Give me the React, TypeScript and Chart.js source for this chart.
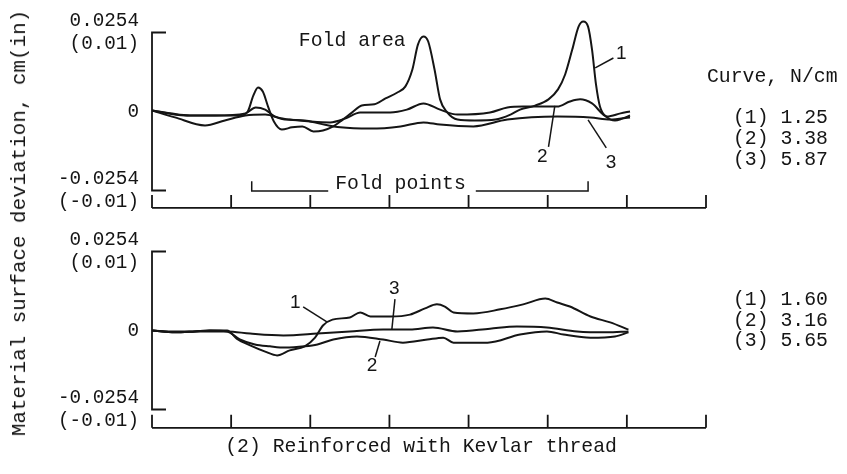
import React, { useEffect, useRef } from 'react';
import { Chart, registerables } from 'chart.js';

Chart.register(...registerables);

// ---------- axis definitions ----------
const X_TICKS = [0, 1, 2, 3, 4, 5, 6, 7];
const Y_TICKS = [-0.0254, 0, 0.0254];
const Y_TICK_LABELS = [['-0.0254', '(-0.01)'], ['0'], ['0.0254', '(0.01)']];
const Y_TITLE = 'Material surface deviation, cm(in)';

// ---------- top panel data (cm) ----------
const TOP_C1_X = [0, 0.23, 0.48, 0.8, 1.11, 1.21, 1.28, 1.34, 1.4, 1.47, 1.54, 1.64, 1.77, 1.9, 2.04, 2.16, 2.29, 2.41, 2.53, 2.65, 2.81, 2.95, 3.1, 3.2, 3.29, 3.36, 3.43, 3.49, 3.57, 3.64, 3.73, 3.86, 4.08, 4.34, 4.53, 4.65, 4.84, 5.01, 5.13, 5.22, 5.31, 5.39, 5.45, 5.51, 5.56, 5.61, 5.66, 5.75, 5.85, 5.94, 6.04];
const TOP_C1_Y = [0.0003, -0.0006, -0.0013, -0.0013, -0.0013, 0, 0.0051, 0.0077, 0.0064, 0.0013, -0.0032, -0.0058, -0.0051, -0.0048, -0.0064, -0.0061, -0.0048, -0.0026, -0.0003, 0.0019, 0.0023, 0.0042, 0.0061, 0.008, 0.0135, 0.0215, 0.0241, 0.0225, 0.0135, 0.0039, -0.0003, -0.0026, -0.0029, -0.0026, -0.001, 0.0006, 0.0019, 0.0039, 0.0071, 0.0119, 0.0199, 0.0273, 0.0289, 0.0273, 0.0199, 0.0087, 0.0016, -0.0019, -0.0029, -0.0023, -0.0013];

const TOP_C2_X = [0, 0.42, 0.8, 1.18, 1.31, 1.43, 1.55, 1.74, 2.0, 2.25, 2.44, 2.63, 3.01, 3.22, 3.43, 3.64, 3.86, 4.27, 4.49, 4.69, 5.12, 5.28, 5.41, 5.56, 5.75, 5.92, 6.04];
const TOP_C2_Y = [0.0003, -0.0013, -0.0013, -0.0006, 0.0013, 0.0006, -0.0016, -0.0026, -0.0032, -0.0035, -0.0023, -0.0003, -0.0003, 0.0006, 0.0026, 0.0006, -0.001, -0.0003, 0.0013, 0.0016, 0.0016, 0.0032, 0.0039, 0.0026, -0.0016, -0.0006, 0];

const TOP_C3_X = [0, 0.29, 0.67, 0.92, 1.18, 1.43, 1.68, 1.93, 2.12, 2.38, 2.76, 3.14, 3.43, 3.64, 4.06, 4.49, 5.12, 5.54, 5.79, 6.04];
const TOP_C3_Y = [0.0003, -0.0019, -0.0045, -0.0029, -0.0013, -0.001, -0.0026, -0.0029, -0.0039, -0.0051, -0.0055, -0.0048, -0.0035, -0.0042, -0.0048, -0.0026, -0.0016, -0.0019, -0.0026, -0.0019];

// ---------- bottom panel data (cm) ----------
const BOT_C1_X = [0, 0.29, 0.54, 0.73, 0.95, 1.07, 1.24, 1.43, 1.58, 1.74, 1.93, 2.06, 2.16, 2.28, 2.5, 2.63, 2.76, 3.01, 3.26, 3.45, 3.6, 3.7, 3.81, 4.06, 4.4, 4.69, 4.97, 5.12, 5.28, 5.54, 5.79, 6.02];
const BOT_C1_Y = [0, -0.0006, -0.0003, 0, 0, -0.0026, -0.0048, -0.0068, -0.008, -0.0064, -0.0051, -0.0023, 0.0016, 0.0035, 0.0042, 0.0058, 0.0045, 0.0045, 0.0051, 0.0071, 0.0084, 0.0077, 0.0058, 0.0055, 0.0068, 0.0084, 0.0103, 0.009, 0.0077, 0.0045, 0.0026, 0.0003];

const BOT_C2_X = [0, 0.29, 0.54, 0.73, 0.95, 1.11, 1.3, 1.49, 1.68, 1.93, 2.09, 2.29, 2.59, 2.92, 3.17, 3.48, 3.68, 3.81, 4.24, 4.65, 4.99, 5.2, 5.54, 5.85, 6.02];
const BOT_C2_Y = [0, -0.0006, -0.0003, 0, -0.0003, -0.0029, -0.0045, -0.0051, -0.0055, -0.0051, -0.0045, -0.0029, -0.0019, -0.0029, -0.0039, -0.0029, -0.0023, -0.0039, -0.0039, -0.0013, -0.0003, -0.0013, -0.0023, -0.0019, -0.0006];

const BOT_C3_X = [0, 0.29, 0.61, 0.95, 1.24, 1.66, 2.09, 2.5, 2.92, 3.26, 3.55, 3.86, 4.27, 4.61, 4.99, 5.37, 5.75, 6.02];
const BOT_C3_Y = [0, -0.0003, -0.0003, -0.0003, -0.001, -0.0016, -0.001, -0.0003, 0.0003, 0.0003, 0.001, -0.0003, 0.0006, 0.0013, 0.001, -0.0003, -0.0006, -0.0003];

// ---------- annotations (data units) ----------
const TOP_LABELS = [
  { text: 'Fold area', x: 2.53, y: 0.0228, mono: true },
  { text: '1', x: 5.93, y: 0.0185, mono: false },
  { text: '2', x: 4.93, y: -0.0146, mono: false },
  { text: '3', x: 5.8, y: -0.0165, mono: false },
];
const TOP_LEADERS = [
  [5.6, 0.014, 5.83, 0.0172],
  [5.09, 0.0018, 5.01, -0.0114],
  [5.51, -0.0027, 5.74, -0.0117],
];
const FOLD_POINTS = { label: 'Fold points', from: 1.26, to: 5.51, textX: 3.14, y: -0.0256, tickTop: -0.0224 };

const BOT_LABELS = [
  { text: '1', x: 1.81, y: 0.0088, mono: false },
  { text: '3', x: 3.06, y: 0.0134, mono: false },
  { text: '2', x: 2.78, y: -0.0114, mono: false },
  { text: '(2) Reinforced with Kevlar thread', x: 3.4, y: -0.0375, mono: true },
];
const BOT_LEADERS = [
  [1.91, 0.0076, 2.21, 0.0028],
  [3.07, 0.0101, 3.03, 0.0002],
  [2.88, -0.0034, 2.82, -0.0085],
];

const LEGEND_TITLE = 'Curve, N/cm';
const TOP_LEGEND = ['(1) 1.25', '(2) 3.38', '(3) 5.87'];
const BOT_LEGEND = ['(1) 1.60', '(2) 3.16', '(3) 5.65'];

const MONO = '"Liberation Mono", "DejaVu Sans Mono", monospace';
const SANS = '"Liberation Sans", Arial, sans-serif';
const INK = '#151515';

type Label = { text: string; x: number; y: number; mono: boolean };

const decorPlugin = {
  id: 'decor',
  afterDatasetsDraw(chart: any, _args: any, opts: any) {
    const { ctx, chartArea } = chart;
    const xs = chart.scales.x;
    const ys = chart.scales.y;
    ctx.save();
    ctx.strokeStyle = INK;
    ctx.fillStyle = INK;
    ctx.lineCap = 'butt';
    // y bracket
    ctx.lineWidth = 1.8;
    const xl = xs.getPixelForValue(X_TICKS[0]);
    const yt = ys.getPixelForValue(Y_TICKS[Y_TICKS.length - 1]);
    const yb = ys.getPixelForValue(Y_TICKS[0]);
    ctx.beginPath();
    ctx.moveTo(xl + 14, yt);
    ctx.lineTo(xl, yt);
    ctx.lineTo(xl, yb);
    ctx.lineTo(xl + 14, yb);
    ctx.stroke();
    // x axis with inward ticks
    const by = chartArea.bottom;
    ctx.beginPath();
    ctx.moveTo(xs.getPixelForValue(X_TICKS[0]), by);
    ctx.lineTo(xs.getPixelForValue(X_TICKS[X_TICKS.length - 1]), by);
    X_TICKS.forEach((t) => {
      const px = xs.getPixelForValue(t);
      ctx.moveTo(px, by);
      ctx.lineTo(px, by - 13);
    });
    ctx.stroke();
    // leaders
    ctx.lineWidth = 1.5;
    (opts.leaders || []).forEach((l: number[]) => {
      ctx.beginPath();
      ctx.moveTo(xs.getPixelForValue(l[0]), ys.getPixelForValue(l[1]));
      ctx.lineTo(xs.getPixelForValue(l[2]), ys.getPixelForValue(l[3]));
      ctx.stroke();
    });
    // labels
    ctx.textAlign = 'center';
    ctx.textBaseline = 'middle';
    (opts.labels || []).forEach((lb: Label) => {
      ctx.font = lb.mono ? `19.8px ${MONO}` : `19px ${SANS}`;
      ctx.fillText(lb.text, xs.getPixelForValue(lb.x), ys.getPixelForValue(lb.y));
    });
    // fold points bracket
    const fp = opts.fold;
    if (fp) {
      ctx.font = `19.8px ${MONO}`;
      const w = ctx.measureText(fp.label).width;
      const tx = xs.getPixelForValue(fp.textX);
      const ly = ys.getPixelForValue(fp.y);
      const ty = ys.getPixelForValue(fp.tickTop);
      const x0 = xs.getPixelForValue(fp.from);
      const x1 = xs.getPixelForValue(fp.to);
      ctx.textBaseline = 'alphabetic';
      ctx.fillText(fp.label, tx, ly - 2);
      ctx.lineWidth = 1.5;
      ctx.beginPath();
      ctx.moveTo(x0, ty);
      ctx.lineTo(x0, ly);
      ctx.lineTo(tx - w / 2 - 7, ly);
      ctx.moveTo(tx + w / 2 + 10, ly);
      ctx.lineTo(x1, ly);
      ctx.lineTo(x1, ty);
      ctx.stroke();
    }
    ctx.restore();
  },
};

function pts(xs: number[], ys: number[]) {
  return xs.map((x, i) => ({ x, y: ys[i] }));
}

type PanelProps = {
  curves: { x: number[]; y: number[] }[];
  yMin: number;
  yMax: number;
  height: number;
  padTop: number;
  padBottom: number;
  labels: Label[];
  leaders: number[][];
  fold?: any;
};

function Panel(p: PanelProps) {
  const ref = useRef<HTMLCanvasElement | null>(null);
  useEffect(() => {
    if (!ref.current) return;
    const chart = new Chart(ref.current, {
      type: 'line',
      data: {
        datasets: p.curves.map((c) => ({
          data: pts(c.x, c.y),
          borderColor: INK,
          borderWidth: 2,
          pointRadius: 0,
          fill: false,
          cubicInterpolationMode: 'monotone' as const,
        })),
      },
      options: {
        animation: false,
        responsive: false,
        devicePixelRatio: 1,
        layout: { padding: { left: 0, right: 847 - 706, top: p.padTop, bottom: p.padBottom } },
        plugins: {
          legend: { display: false },
          tooltip: { enabled: false },
          decor: { labels: p.labels, leaders: p.leaders, fold: p.fold },
        } as any,
        scales: {
          x: {
            type: 'linear',
            min: X_TICKS[0],
            max: X_TICKS[X_TICKS.length - 1],
            display: false,
          },
          y: {
            type: 'linear',
            min: p.yMin,
            max: p.yMax,
            border: { display: false },
            grid: { display: false },
            afterBuildTicks: (axis: any) => {
              axis.ticks = Y_TICKS.map((v) => ({ value: v }));
            },
            afterFit: (axis: any) => {
              axis.width = 152;
              axis.paddingTop = 0;
              axis.paddingBottom = 0;
            },
            ticks: {
              autoSkip: false,
              padding: 5,
              color: INK,
              font: { family: MONO, size: 19.3, lineHeight: 1.2 },
              callback: (_v: any, i: number) => Y_TICK_LABELS[i],
            },
          },
        },
      },
      plugins: [decorPlugin],
    });
    return () => chart.destroy();
  }, []);
  return <canvas ref={ref} width={847} height={p.height} style={{ display: 'block' }} />;
}

const textStyle: React.CSSProperties = {
  position: 'absolute',
  fontFamily: MONO,
  fontSize: '19.8px',
  color: INK,
  whiteSpace: 'nowrap',
  lineHeight: '20px',
};

export default function App() {
  return (
    <div style={{ position: 'absolute', left: 0, top: 0, width: 847, height: 474, background: '#fff', overflow: 'hidden' }}>
      <div style={{ position: 'absolute', left: 0, top: 0 }}>
        <Panel
          curves={[
            { x: TOP_C1_X, y: TOP_C1_Y },
            { x: TOP_C2_X, y: TOP_C2_Y },
            { x: TOP_C3_X, y: TOP_C3_Y },
          ]}
          yMin={-0.031}
          yMax={0.034}
          height={222}
          padTop={5.75}
          padBottom={14.1}
          labels={TOP_LABELS}
          leaders={TOP_LEADERS}
          fold={FOLD_POINTS}
        />
      </div>
      <div style={{ position: 'absolute', left: 0, top: 222 }}>
        <Panel
          curves={[
            { x: BOT_C1_X, y: BOT_C1_Y },
            { x: BOT_C2_X, y: BOT_C2_Y },
            { x: BOT_C3_X, y: BOT_C3_Y },
          ]}
          yMin={-0.0313}
          yMax={0.034}
          height={252}
          padTop={2.75}
          padBottom={46.15}
          labels={BOT_LABELS}
          leaders={BOT_LEADERS}
        />
      </div>
      <div
        style={{
          ...textStyle,
          fontSize: '20.9px',
          left: 20,
          top: 223,
          transform: 'translate(-50%, -50%) rotate(-90deg)',
        }}
      >
        {Y_TITLE}
      </div>
      <div style={{ ...textStyle, left: 707, top: 77 - 10 }}>{LEGEND_TITLE}</div>
      {TOP_LEGEND.map((t, i) => (
        <div key={'t' + i} style={{ ...textStyle, left: 733, top: 118 - 10 + i * 21 }}>{t}</div>
      ))}
      {BOT_LEGEND.map((t, i) => (
        <div key={'b' + i} style={{ ...textStyle, left: 733, top: 300 - 10 + i * 20.5 }}>{t}</div>
      ))}
    </div>
  );
}
